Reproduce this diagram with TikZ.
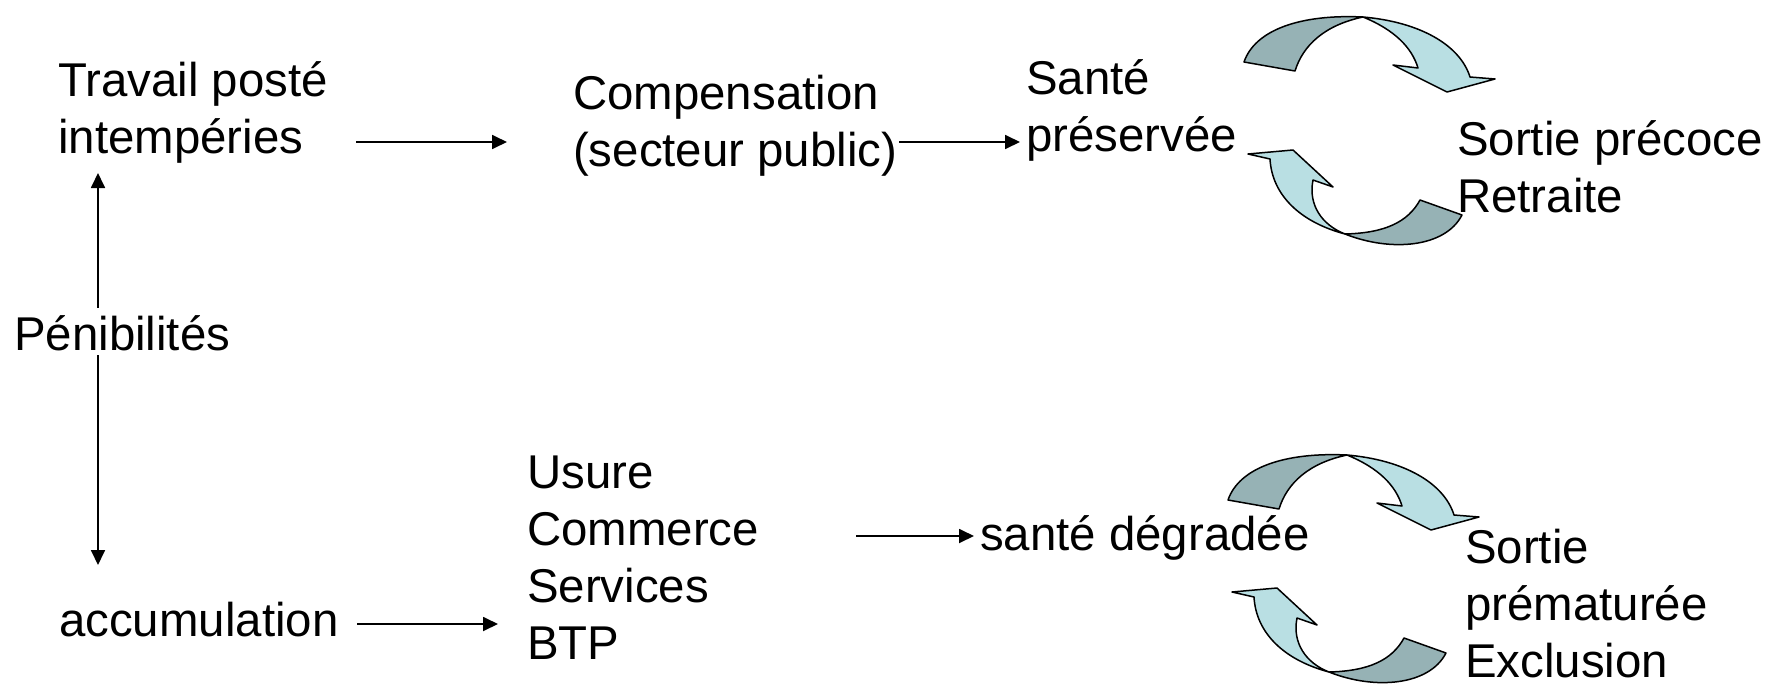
\documentclass[tikz,border=0pt]{standalone}
\usepackage{fontspec}
\setmainfont{Liberation Sans}
\usetikzlibrary{arrows.meta}
\definecolor{darkc}{RGB}{150,178,181}
\definecolor{lightc}{RGB}{185,223,227}
\newcommand{\cyclepair}{%
  \filldraw[band, fill=darkc] (1244,62) -- (1295,71) .. controls (1303,45) and (1325,25) .. (1363,17) .. controls (1300,14) and (1255,30) .. (1244,62) -- cycle;
  \filldraw[band, fill=lightc] (1363,17) .. controls (1420,22) and (1460,45) .. (1470,77) -- (1495,79) -- (1447,92) -- (1393,65) -- (1418,68) .. controls (1412,48) and (1395,30) .. (1363,17) -- cycle;
  \filldraw[band, fill=lightc] (1345,234) .. controls (1300,222) and (1272,195) .. (1270,159) -- (1248,154) -- (1293,150) -- (1333,187) -- (1313,180) .. controls (1308,205) and (1322,225) .. (1345,234) -- cycle;
  \filldraw[band, fill=darkc] (1345,234) .. controls (1390,252) and (1445,248) .. (1462,215) -- (1420,200) .. controls (1408,222) and (1385,233) .. (1345,234) -- cycle;
}
\begin{document}
\begin{tikzpicture}[x=1pt,y=-1pt,
  txt/.style={font=\fontsize{47.4}{57}\selectfont, inner sep=0pt, align=left, anchor=base west},
  conn/.style={line width=1.8pt, -{Triangle[length=15pt,width=14pt]}},
  dconn/.style={line width=1.8pt, {Triangle[length=15pt,width=14pt]}-{Triangle[length=15pt,width=14pt]}},
  band/.style={draw=black, line width=1.5pt, line join=round}]
\useasboundingbox (0,0) rectangle (1770,683);
\clip (0,0) rectangle (1770,683);
\fill[white] (0,0) rectangle (1770,683);

% vertical double arrow behind label
\coordinate (vt) at (98,173);
\coordinate (vb) at (98,565);
\draw[dconn] (vt) -- (vb);

% multi-line nodes: base anchor = baseline of last line
\node[txt] (travail) at (58,153) {Travail posté\\intempéries};
\node[txt] (comp) at (573,166.5) {Compensation\\(secteur public)};
\node[txt] (sante) at (1026,151) {Santé\\préservée};
\node[txt] (sortie1) at (1457,212) {Sortie précoce\\Retraite};
\node[txt, fill=white, text height=42pt, text depth=5pt] (penib) at (14,350) {Pénibilités};
\node[txt] (accu) at (59,636) {accumulation};
\node[txt] (usure) at (527,659) {Usure\\Commerce\\Services\\BTP};
\node[txt] (degr) at (980,550) {santé dégradée};
\node[txt, text depth=0pt] (sortie2) at (1465,677) {Sortie\\prématurée\\Exclusion};

\coordinate (a1s) at (356,142); \coordinate (a1e) at (507,142);
\coordinate (a2s) at (899,142); \coordinate (a2e) at (1020,142);
\coordinate (a3s) at (357,624); \coordinate (a3e) at (498,624);
\coordinate (a4s) at (856,536); \coordinate (a4e) at (974,536);
\draw[conn] (a1s) -- (a1e);
\draw[conn] (a2s) -- (a2e);
\draw[conn] (a3s) -- (a3e);
\draw[conn] (a4s) -- (a4e);

\cyclepair
\begin{scope}[shift={(-16,438)}]
\cyclepair
\end{scope}
\end{tikzpicture}
\end{document}
